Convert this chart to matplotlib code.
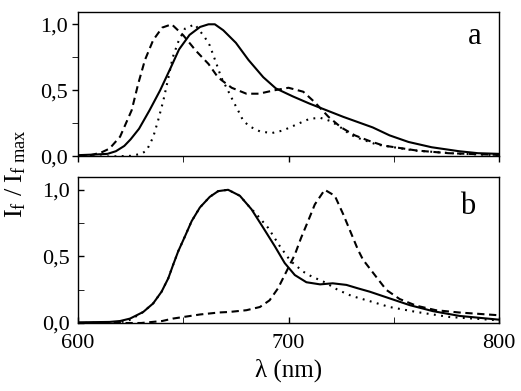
import matplotlib
matplotlib.use("Agg")
import matplotlib.pyplot as plt
from matplotlib.ticker import FuncFormatter, MultipleLocator

plt.rcParams["font.family"] = ["Liberation Serif", "DejaVu Serif"]
plt.rcParams["mathtext.fontset"] = "custom"
plt.rcParams["mathtext.rm"] = "Liberation Serif"
plt.rcParams["mathtext.it"] = "Liberation Serif:italic"

# panel a
a_solid_wl = [600, 608, 614, 618, 622, 625, 629, 634, 639, 644, 648, 653, 658, 662, 665,
              669, 675, 681, 688, 694, 702, 710, 718, 726, 733, 740, 748, 757, 768, 781, 790, 800]
a_solid = [0.01, 0.015, 0.02, 0.04, 0.08, 0.13, 0.21, 0.35, 0.50, 0.67, 0.81, 0.92, 0.98, 1.00, 1.00,
           0.955, 0.86, 0.73, 0.60, 0.515, 0.455, 0.40, 0.35, 0.30, 0.26, 0.22, 0.16, 0.11, 0.07, 0.04, 0.025, 0.02]

a_dash_wl = [600, 606, 611, 615, 620, 625.5, 628.6, 631.8, 635.7, 640, 644.5, 650, 656, 662, 666,
             668, 673, 680, 686, 693, 700, 707, 712.5, 719, 725, 731.5, 738, 745, 761, 776, 800]
a_dash = [0.0, 0.01, 0.03, 0.06, 0.15, 0.35, 0.55, 0.73, 0.88, 0.975, 1.0, 0.917, 0.80, 0.70, 0.61,
          0.58, 0.52, 0.475, 0.475, 0.50, 0.52, 0.49, 0.41, 0.30, 0.22, 0.16, 0.12, 0.083, 0.045, 0.025, 0.012]

a_dot_wl = [600, 615, 625, 630, 632.6, 635.7, 638, 640.5, 643, 645, 647.6, 650.8, 655.5, 660.3, 662.6,
            665.8, 668, 672, 674, 676, 678.5, 681.6, 686.4, 692, 697.4, 704.5, 710, 715, 719.6, 723.5,
            729, 732, 742, 760, 780, 800]
a_dot = [0.0, 0.0, 0.005, 0.02, 0.045, 0.146, 0.27, 0.42, 0.60, 0.75, 0.866, 0.967, 1.0, 0.90, 0.84,
         0.70, 0.60, 0.475, 0.41, 0.35, 0.27, 0.227, 0.19, 0.177, 0.197, 0.247, 0.285, 0.293, 0.27, 0.235,
         0.17, 0.146, 0.09, 0.045, 0.022, 0.01]

# panel b
b_solid_wl = [600, 615, 620, 624.7, 631, 635.7, 639.7, 642.9, 645.2, 647.6, 650.8, 654, 657.9, 662.6,
              666.6, 671.3, 676.9, 682.4, 688, 693.5, 698.2, 703, 708.5, 715, 721, 727.5, 733, 738.6,
              748, 757.6, 768.6, 781.3, 800]
b_solid = [0.005, 0.008, 0.015, 0.033, 0.083, 0.147, 0.235, 0.336, 0.437, 0.538, 0.65, 0.765, 0.867, 0.947,
           0.99, 1.0, 0.955, 0.854, 0.715, 0.576, 0.45, 0.36, 0.306, 0.29, 0.298, 0.286, 0.26, 0.235,
           0.185, 0.134, 0.089, 0.053, 0.025]

b_dot_wl = [600, 620, 625, 631, 635.7, 639.7, 642.9, 645.2, 647.6, 650.8, 654, 657.9, 662.6, 666.6,
            671.3, 676.9, 681, 684.8, 690.3, 695.9, 700.9, 706.9, 710.9, 717.2, 723.5, 730, 738.6,
            748, 760.7, 776.5, 800]
b_dot = [0.0, 0.005, 0.025, 0.083, 0.147, 0.235, 0.336, 0.437, 0.538, 0.65, 0.765, 0.867, 0.947, 0.99,
         1.0, 0.955, 0.88, 0.816, 0.715, 0.576, 0.467, 0.386, 0.35, 0.306, 0.248, 0.203, 0.164,
         0.12, 0.083, 0.045, 0.02]

b_dash_wl = [600, 630, 640, 645, 658, 667, 672, 680, 686.4, 691, 695, 699, 703, 706, 709.3, 712.5,
             717.2, 722, 726, 730, 733, 735.4, 741, 746.5, 752.8, 760.7, 770, 781, 800]
b_dash = [0.0, 0.0, 0.015, 0.033, 0.064, 0.079, 0.083, 0.096, 0.12, 0.17, 0.26, 0.386, 0.513, 0.64, 0.765,
          0.89, 1.0, 0.955, 0.816, 0.664, 0.55, 0.475, 0.36, 0.248, 0.18, 0.13, 0.096, 0.079, 0.058]

W, H = 521, 391
fig = plt.figure(figsize=(W / 100, H / 100), dpi=100)
ax_a = fig.add_axes([78 / W, 1 - 156.5 / H, 421 / W, 144.5 / H])
ax_b = fig.add_axes([78 / W, 1 - 323 / H, 421 / W, 146 / H])

lw = 1.5
dash = (0, (3.5, 2.2))
dot = (0, (0.9, 2.6))
comma = FuncFormatter(lambda v, p: f"{v:.1f}".replace(".", ","))

for ax, sets, ymax in [
    (ax_a, [(a_solid_wl, a_solid, "-"), (a_dash_wl, a_dash, dash), (a_dot_wl, a_dot, dot)], 1.093),
    (ax_b, [(b_solid_wl, b_solid, "-"), (b_dash_wl, b_dash, dash), (b_dot_wl, b_dot, dot)], 1.096),
]:
    for wl, v, ls in sets:
        ax.plot(wl, v, color="black", lw=lw, linestyle=ls)
    ax.set_xlim(600, 800)
    ax.set_ylim(0, ymax)
    ax.xaxis.set_major_locator(MultipleLocator(100))
    ax.xaxis.set_minor_locator(MultipleLocator(50))
    ax.yaxis.set_major_locator(MultipleLocator(0.5))
    ax.yaxis.set_minor_locator(MultipleLocator(0.25))
    ax.yaxis.set_major_formatter(comma)
    for s in ax.spines.values():
        s.set_linewidth(1.0)
    ax.tick_params(labelsize=16, width=1.0)

ax_a.tick_params(which="both", direction="out", length=4)
ax_a.tick_params(axis="x", labelbottom=False)
ax_b.tick_params(which="both", direction="in", length=4)
ax_b.tick_params(axis="x", pad=8)
ax_b.tick_params(axis="y", pad=6)
ax_a.tick_params(axis="y", pad=3)

ax_a.text(475 / W, 1 - 37 / H, "a", transform=fig.transFigure, fontsize=22, ha="center", va="center")
ax_b.text(468 / W, 1 - 207 / H, "b", transform=fig.transFigure, fontsize=22, ha="center", va="center")

ax_b.set_xlabel("λ (nm)", fontsize=18, labelpad=4)
fig.text(16 / W, 1 - 174 / H, r"$\mathrm{I_f\ /\ I_{f\ max}}$", rotation=90,
         ha="center", va="center", fontsize=19)

fig.savefig("out.png", dpi=100)
